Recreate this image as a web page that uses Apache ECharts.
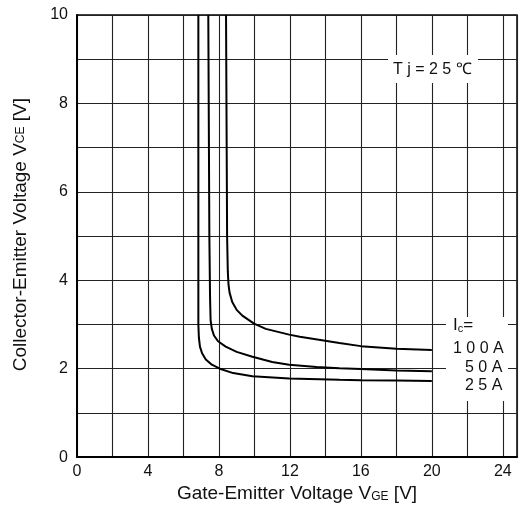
<!DOCTYPE html>
<html>
<head>
<meta charset="utf-8">
<script src="https://cdn.jsdelivr.net/npm/echarts@6/dist/echarts.min.js"></script>
<style>html,body{margin:0;padding:0;background:#fff}#c{width:519px;height:508px}</style>
</head>
<body>
<div id="c"></div>
<script>
// Data (VGE [V], VCE [V])
const curve100A = [[8.40,10],[8.46,5],[8.50,4.2],[8.54,3.9],[8.6,3.72],[8.75,3.51],[9.0,3.33],[9.32,3.2],[9.98,3.02],[10.64,2.9],[11.96,2.77],[12.56,2.72],[14.79,2.58],[16,2.51],[18,2.45],[20,2.42]];
const curve50A = [[7.40,10],[7.46,5],[7.50,3.6],[7.53,3.1],[7.6,2.9],[7.72,2.75],[7.95,2.62],[8.38,2.5],[9.0,2.38],[9.89,2.27],[11,2.15],[11.96,2.09],[13.5,2.04],[14.79,2.01],[16,1.99],[18,1.96],[20,1.94]];
const curve25A = [[6.84,10],[6.84,3.0],[6.87,2.7],[6.93,2.5],[7.05,2.35],[7.26,2.21],[7.6,2.09],[8.05,2.0],[8.8,1.9],[9.89,1.83],[11.96,1.78],[14.79,1.75],[16,1.74],[18,1.73],[20,1.72]];
const xTickLabels = ['0','4','8','12','16','20','24'];
const yTickLabels = ['0','2','4','6','8','10'];
const seriesNames = ['100 A','50 A','25 A'];

const font = 'Liberation Sans, Arial, sans-serif';
const chart = echarts.init(document.getElementById('c'));
const lineStyle = {color:'#000', width:2};
chart.setOption({
  animation:false,
  grid:{left:77, top:15, right:2, bottom:46, show:true, borderColor:'#000', borderWidth:1.5},
  xAxis:{
    type:'value', min:0, max:24.8, interval:2,
    axisLine:{show:true, lineStyle:{color:'#000', width:2}},
    axisTick:{show:false},
    splitLine:{show:true, lineStyle:{color:'#222', width:1.1}},
    axisLabel:{
      color:'#111', fontFamily:font, fontSize:16, margin:6, showMaxLabel:false,
      formatter:v => xTickLabels.indexOf(String(v)) >= 0 ? String(v) : ''
    },
    name:'Gate-Emitter Voltage V{sub|GE} [V]', nameLocation:'middle', nameGap:23,
    nameTextStyle:{color:'#111', fontFamily:font, fontSize:19,
      rich:{sub:{fontFamily:font, fontSize:12, color:'#111', verticalAlign:'bottom', padding:[6,0,0,0]}}}
  },
  yAxis:{
    type:'value', min:0, max:10, interval:1,
    axisLine:{show:true, lineStyle:{color:'#000', width:2}},
    axisTick:{show:false},
    splitLine:{show:true, lineStyle:{color:'#222', width:1.1}},
    axisLabel:{
      color:'#111', fontFamily:font, fontSize:16, margin:9,
      formatter:v => yTickLabels.indexOf(String(v)) >= 0 ? String(v) : ''
    }
  },
  series:[
    {name:seriesNames[0], type:'line', data:curve100A, symbol:'none', lineStyle:lineStyle, z:5},
    {name:seriesNames[1], type:'line', data:curve50A, symbol:'none', lineStyle:lineStyle, z:5},
    {name:seriesNames[2], type:'line', data:curve25A, symbol:'none', lineStyle:lineStyle, z:5}
  ],
  graphic:[
    {type:'text', left:11, top:98, rotation:Math.PI/2, z:50,
      style:{text:'Collector-Emitter Voltage V{sub|CE} [V]', fill:'#111', font:'19px '+font,
        rich:{sub:{fontSize:12, fill:'#111', fontFamily:font}}}},
    {type:'rect', shape:{x:388, y:55, width:90, height:28}, style:{fill:'#fff'}, z:50},
    {type:'text', x:393, y:62, z:51, style:{text:'T j = 2 5 ℃', fill:'#111', font:'16px '+font}},
    {type:'rect', shape:{x:446, y:317, width:62, height:84}, style:{fill:'#fff'}, z:50},
    {type:'text', x:453, y:317, z:51, style:{text:'I{sub|c}=', fill:'#111', font:'17px '+font,
        rich:{sub:{fontSize:11, fill:'#111', fontFamily:font, padding:[6,0,0,0]}}}},
    {type:'text', x:453, y:341, z:51, style:{text:'1 0 0 A', fill:'#111', font:'16px '+font}},
    {type:'text', x:465, y:360, z:51, style:{text:'5 0 A', fill:'#111', font:'16px '+font}},
    {type:'text', x:465, y:378, z:51, style:{text:'2 5 A', fill:'#111', font:'16px '+font}}
  ]
});
</script>
</body>
</html>
